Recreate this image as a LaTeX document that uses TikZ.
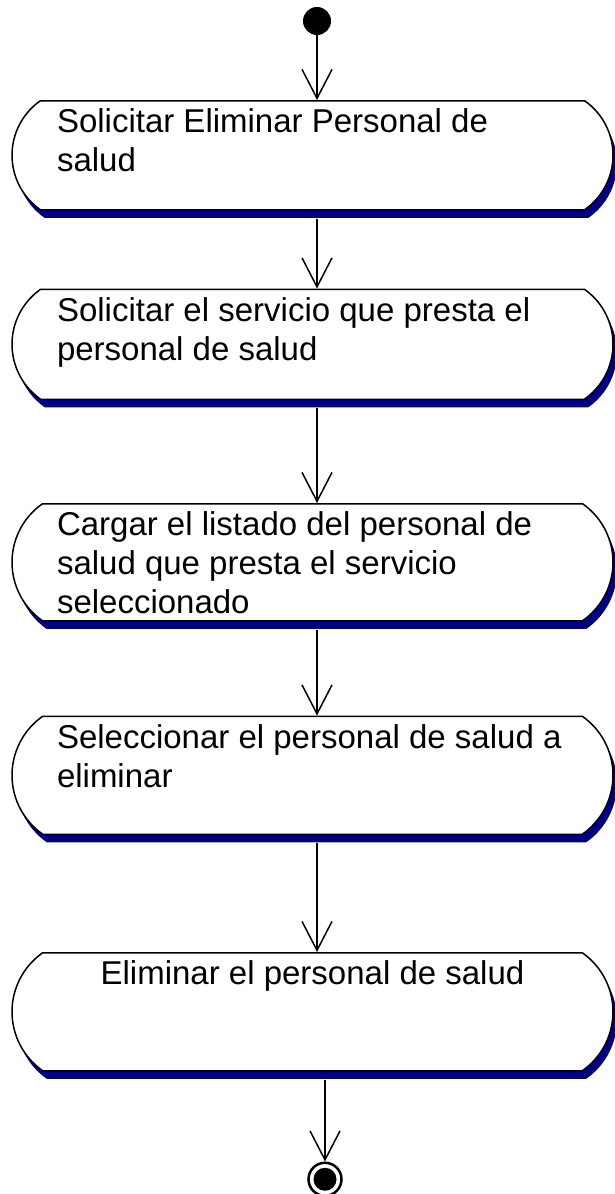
\documentclass[tikz,border=0pt]{standalone}
\usepackage{fontspec}
\setmainfont{Liberation Sans}
\usetikzlibrary{shapes.misc,arrows.meta,positioning,shadows}
\definecolor{umlnavy}{RGB}{0,0,128}

\begin{document}
\begin{tikzpicture}[
    x=1pt, y=1pt,
    actbox/.style={rounded rectangle, rounded rectangle arc length=110, draw, line width=1.5pt, fill=white,
        minimum width=601pt, minimum height=#1, inner sep=0pt,
        drop shadow={shadow xshift=4pt, shadow yshift=-8pt, fill=umlnavy, opacity=1},
        font=\fontsize{33pt}{39pt}\selectfont,
        execute at begin node={\begin{minipage}[c][\dimexpr#1-16pt\relax][t]{511pt}\raggedright},
        execute at end node={\end{minipage}}},
    initial/.style={circle, fill=black, minimum size=28pt, inner sep=0pt},
    final/.style={circle, draw, line width=2.5pt, minimum size=33pt, inner sep=0pt},
    flow/.style={-{Straight Barb[length=29pt, width=30pt, line width=1.5pt]}, line width=1.5pt}
]
\useasboundingbox (0,0) rectangle (615,-1194);

\node[initial] (init) at (317,-21) {};
\node[actbox=109pt, anchor=north] (b1) at (312.5,-100) {Solicitar Eliminar Personal de\\salud};
\node[actbox=110pt, below=78pt of b1] (b2) {Solicitar el servicio que presta el\\personal de salud};
\node[actbox=117pt, below=103pt of b2] (b3) {Cargar el listado del personal de\\salud que presta el servicio\\seleccionado};
\node[actbox=118pt, below=94pt of b3] (b4) {Seleccionar el personal de salud a\\eliminar};
\node[actbox=118pt, below=117pt of b4] (b5) {\makebox[\linewidth]{Eliminar el personal de salud}};
\node[final, below=90pt of b5, xshift=12.5pt] (fin) {};
\fill (fin.center) circle[radius=11.5];

\draw[flow] (init) -- (init |- b1.north);
\draw[flow, shorten <=8pt] (b1.south -| init) -- (b2.north -| init);
\draw[flow, shorten <=8pt] (b2.south -| init) -- (b3.north -| init);
\draw[flow, shorten <=8pt] (b3.south -| init) -- (b4.north -| init);
\draw[flow, shorten <=8pt] (b4.south -| init) -- (b5.north -| init);
\draw[flow, shorten <=8pt] (b5.south -| fin) -- (fin.north);

\end{tikzpicture}
\end{document}
